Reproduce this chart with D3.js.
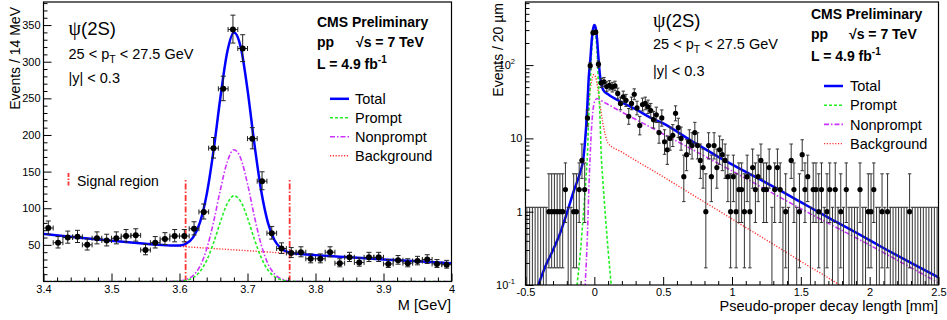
<!DOCTYPE html>
<html><head><meta charset="utf-8">
<script src="https://cdn.jsdelivr.net/npm/d3@7"></script>
<style>
body{margin:0;background:#fff;}
svg{display:block;}
text{font-family:"Liberation Sans",Arial,Helvetica,sans-serif;fill:#000;}
</style></head><body>
<svg id="chart" width="947" height="320"></svg>
<script>
// ================= DATA =================
// ---- Left panel: invariant mass histogram (42 bins, 3.4 - 4.0 GeV) ----
const massBinCenters = [3.4071,3.4214,3.4357,3.4500,3.4643,3.4786,3.4929,3.5071,3.5214,3.5357,
  3.5500,3.5643,3.5786,3.5929,3.6071,3.6214,3.6357,3.6500,3.6643,3.6786,
  3.6929,3.7071,3.7214,3.7357,3.7500,3.7643,3.7786,3.7929,3.8071,3.8214,
  3.8357,3.8500,3.8643,3.8786,3.8929,3.9071,3.9214,3.9357,3.9500,3.9643,
  3.9786,3.9929];
const massCounts = [73,53,60,61,50,59,56,59,62,63,
  43,53,58,62,62,72,95,182,263,344,
  318,195,137,66,45,39,40,31,31,40,
  25,33,26,33,33,24,29,25,28,30,
  24,23];
const massBinHalfWidth = 0.3/42;

const massGridTotal = [3.40,3.45,3.50,3.55,3.58,3.59,3.60,3.61,3.62,3.63,3.64,3.65,3.66,3.67,3.68,3.69,3.70,3.71,3.72,3.73,3.74,3.75,3.76,3.77,3.78,3.80,3.85,3.90,3.95,4.00];
const totalMassFit = [65,60,55.5,51.5,49.5,49.0,49.25,51.9,60.2,80.2,118.9,178.3,250.1,312.3,340.0,320.2,261.9,188.8,124.5,80.4,55.9,44.6,40.05,38.2,37.3,36,33,30,27.5,25];
const massGridSignal = [3.40,3.50,3.56,3.58,3.59,3.60,3.61,3.62,3.63,3.64,3.65,3.66,3.67,3.68,3.69,3.70,3.71,3.72,3.73,3.74,3.75,3.76,3.77,3.78,3.80,3.90,4.00];
const promptMassFit = [0,0,0,0.02,0.12,0.49,1.76,5.28,13.4,28.9,52.5,81.0,105.8,116.9,109.4,86.6,58.1,33.0,15.8,6.4,2.2,0.65,0.16,0.03,0,0,0];
const nonpromptMassFit = [0,0,0,0.04,0.18,0.76,2.7,8.1,20.6,44.4,80.8,124.7,162.7,179.9,168.2,133.3,89.3,50.7,24.4,9.9,3.4,1.0,0.24,0.05,0,0,0];
const massGridBkg = [3.40,3.45,3.50,3.55,3.60,3.65,3.70,3.75,3.80,3.85,3.90,3.95,4.00];
const bkgMassFit = [65,60,55.5,51.5,48,45,42,39,36,33,30,27.5,25];
const signalRegionEdges = [3.609, 3.762];
const signalRegionHeight = 140;

// ---- Right panel: pseudo-proper decay length histogram (150 bins of 20 um) ----
const decayBinCenters = [
 -0.49,-0.47,-0.45,-0.43,-0.41,-0.39,-0.37,-0.35,-0.33,-0.31,
 -0.29,-0.27,-0.25,-0.23,-0.21,-0.19,-0.17,-0.15,-0.13,-0.11,
 -0.09,-0.07,-0.05,-0.03,-0.01,0.01,0.03,0.05,0.07,0.09,
 0.11,0.13,0.15,0.17,0.19,0.21,0.23,0.25,0.27,0.29,
 0.31,0.33,0.35,0.37,0.39,0.41,0.43,0.45,0.47,0.49,
 0.51,0.53,0.55,0.57,0.59,0.61,0.63,0.65,0.67,0.69,
 0.71,0.73,0.75,0.77,0.79,0.81,0.83,0.85,0.87,0.89,
 0.91,0.93,0.95,0.97,0.99,1.01,1.03,1.05,1.07,1.09,
 1.11,1.13,1.15,1.17,1.19,1.21,1.23,1.25,1.27,1.29,
 1.31,1.33,1.35,1.37,1.39,1.41,1.43,1.45,1.47,1.49,
 1.51,1.53,1.55,1.57,1.59,1.61,1.63,1.65,1.67,1.69,
 1.71,1.73,1.75,1.77,1.79,1.81,1.83,1.85,1.87,1.89,
 1.91,1.93,1.95,1.97,1.99,2.01,2.03,2.05,2.07,2.09,
 2.11,2.13,2.15,2.17,2.19,2.21,2.23,2.25,2.27,2.29,
 2.31,2.33,2.35,2.37,2.39,2.41,2.43,2.45,2.47,2.49];
const decayCounts = [
 0,0,0,0,0,0,0,0,1,1,
 1,1,1,1,2,0,0,1,1,2,
 5,2,19,98,276,281,103,57,59,51,
 53,50,52,41,30,37,33,20,30,40,
 26,15,29,30,27,24,18,21,12,19,
 9,7,10,11,22,14,10,3,6,9,
 8,12,8,5,4,1,8,3,8,4,
 7,6,5,3,1,3,1,2,2,1,
 3,1,4,2,3,5,2,2,4,0,
 2,4,2,0,1,0,5,2,0,1,
 6,2,3,0,2,2,1,2,0,1,
 2,0,2,0,1,0,2,0,0,0,
 0,2,0,0,1,1,2,0,0,1,
 0,1,0,0,0,0,0,0,0,1,
 0,0,0,0,0,0,0,0,0,0];
const decayBinHalfWidth = 0.01;

const decayGridTotal = [-0.42,-0.35,-0.3,-0.25,-0.2,-0.15,-0.1,-0.08,-0.07,-0.06,-0.05,-0.04,-0.03,-0.02,-0.01,0,0.01,0.02,0.03,0.04,0.05,0.065,0.1,0.2,0.3,0.4,0.5,0.7,0.9,1.1,1.3,1.5,1.7,1.9,2.1,2.3,2.5];
const totalDecayFit = [0.085,0.19,0.3,0.5,0.95,1.9,3.6,5.2,8,14,30,70,112,205,305,352,320,225,125,75,56,45.5,40,31,25,19.5,16,9.4,5.6,3.5,2.2,1.35,0.83,0.52,0.32,0.2,0.127];
const decayGridBkg = [-0.42,-0.35,-0.3,-0.25,-0.2,-0.15,-0.1,-0.08,-0.06,-0.04,-0.02,-0.005,0.01,0.02,0.04,0.06,0.08,0.1,0.2,0.3,0.5,0.7,0.9,1.1,1.3,1.5,1.7,1.8];
const bkgDecayFit = [0.085,0.19,0.3,0.5,0.95,1.9,3.6,5.1,12,32,60,74,68,55,30,17,11,8.6,6.5,5.0,3.0,1.76,1.04,0.61,0.36,0.21,0.125,0.095];
const decayGridPrompt = [-0.13,-0.1,-0.08,-0.06,-0.05,-0.04,-0.03,-0.02,-0.01,0,0.01,0.02,0.03,0.04,0.05,0.06,0.08,0.1,0.125];
const promptDecayFit = [0.085,0.3,0.9,3,6,22,55,150,250,290,250,150,55,22,6,3,0.9,0.3,0.09];
const decayGridNonprompt = [-0.068,-0.05,-0.04,-0.03,-0.02,-0.01,0,0.02,0.04,0.06,0.1,0.5,1.0,1.5,2.0,2.5];
const nonpromptDecayFit = [0.09,0.5,2,6,14,24,31,35,34,32,29,11.5,3.6,1.1,0.35,0.107];

// ---- tick labels ----
const massTickValues = [3.4,3.5,3.6,3.7,3.8,3.9,4.0];
const massTickLabels = ["3.4","3.5","3.6","3.7","3.8","3.9","4"];
const eventsTickValues = [50,100,150,200,250,300,350];
const eventsTickLabels = ["50","100","150","200","250","300","350"];
const decayTickValues = [-0.5,0,0.5,1,1.5,2,2.5];
const decayTickLabels = ["-0.5","0","0.5","1","1.5","2","2.5"];
const logTickValues = [0.1,1,10,100];
const logTickLabels = [["10","-1"],["1",""],["10",""],["10","2"]];

const legendLabels = ["Total","Prompt","Nonprompt","Background"];

// ================= DRAWING =================
const svg = d3.select("#chart");
svg.append("rect").attr("width",947).attr("height",320).attr("fill","#fff");

const COL = {total:"#0000ff", prompt:"#22ee22", nonprompt:"#cc33ff", bkg:"#ff3333"};
const legendStyles = [
  {stroke:COL.total, w:2.5, dash:null},
  {stroke:COL.prompt, w:1.6, dash:"3,2"},
  {stroke:COL.nonprompt, w:1.6, dash:"5,2,1.5,2"},
  {stroke:COL.bkg, w:1.4, dash:"1.2,1.6"}
];

function poissonLo(n){ if(n<=0) return 0; return n*Math.pow(1-1/(9*n)-1/(3*Math.sqrt(n)),3); }
function poissonHi(n){ if(n<=0) return 1.1475; const m=n+1; return m*Math.pow(1-1/(9*m)+1/(3*Math.sqrt(m)),3); }

function styleAxis(g, fs){
  g.select(".domain").remove();
  g.attr("font-size", fs);
  g.selectAll(".tick line").attr("stroke","#000").attr("stroke-width",1);
  g.selectAll(".tick text").attr("fill","#222");
}

function drawPanel(cfg){
  const {box, xs, ys, id} = cfg;
  svg.append("clipPath").attr("id",id).append("rect")
    .attr("x",box.l).attr("y",box.t).attr("width",box.r-box.l).attr("height",box.b-box.t);
  // x axis
  const gx = svg.append("g").attr("transform",`translate(0,${box.b})`)
    .call(d3.axisBottom(xs).tickValues(cfg.xMajor).tickSize(-8).tickPadding(3.5)
      .tickFormat((d,i)=>cfg.xLabels[i]));
  styleAxis(gx, 11);
  const gxm = svg.append("g").attr("transform",`translate(0,${box.b})`)
    .call(d3.axisBottom(xs).tickValues(cfg.xMinor).tickSize(-4).tickFormat(""));
  styleAxis(gxm, 11);
  // y axis
  const gy = svg.append("g").attr("transform",`translate(${box.l},0)`)
    .call(d3.axisLeft(ys).tickValues(cfg.yMajor).tickSize(-8).tickPadding(3)
      .tickFormat(cfg.yFormat));
  styleAxis(gy, 11);
  const gym = svg.append("g").attr("transform",`translate(${box.l},0)`)
    .call(d3.axisLeft(ys).tickValues(cfg.yMinor).tickSize(-4).tickFormat(""));
  styleAxis(gym, 11);
  // frame
  svg.append("rect").attr("x",box.l).attr("y",box.t).attr("width",box.r-box.l).attr("height",box.b-box.t)
    .attr("fill","none").attr("stroke","#000").attr("stroke-width",1.2);
  return {gy};
}

function drawCurve(g, xs, ys, grid, vals, st){
  const line = d3.line().x((d,i)=>xs(grid[i])).y(d=>ys(d)).curve(d3.curveMonotoneX);
  g.append("path").attr("d", line(vals)).attr("fill","none")
    .attr("stroke",st.stroke).attr("stroke-width",st.w)
    .attr("stroke-dasharray",st.dash);
}

function drawLegend(x0, x1, xt, yc, dy){
  legendLabels.forEach((lab,i)=>{
    const y = yc + i*dy, st = legendStyles[i];
    svg.append("line").attr("x1",x0).attr("x2",x1).attr("y1",y).attr("y2",y)
      .attr("stroke",st.stroke).attr("stroke-width",st.w).attr("stroke-dasharray",st.dash);
    svg.append("text").attr("x",xt).attr("y",y+5.2).attr("font-size",14.5).text(lab);
  });
}

function drawLabels(cfg){
  // psi(2S)
  const t = svg.append("text").attr("x",cfg.px).attr("y",cfg.py).attr("font-size",18.5);
  t.append("tspan").attr("font-family","'Liberation Serif','DejaVu Serif',serif").attr("font-size",20).text("ψ");
  t.append("tspan").text("(2S)");
  const t2 = svg.append("text").attr("x",cfg.px).attr("y",cfg.py2).attr("font-size",14.5);
  t2.append("tspan").text("25 < p");
  t2.append("tspan").attr("font-size",10.5).attr("dy",4).text("T");
  t2.append("tspan").attr("dy",-4).text(" < 27.5 GeV");
  svg.append("text").attr("x",cfg.px).attr("y",cfg.py3).attr("font-size",14.5).text("|y| < 0.3");
  // CMS block
  svg.append("text").attr("x",cfg.cx).attr("y",cfg.cy).attr("font-size",14).attr("font-weight","bold").text("CMS Preliminary");
  svg.append("text").attr("x",cfg.cx).attr("y",cfg.cy+20.3).attr("font-size",14).attr("font-weight","bold").text("pp");
  svg.append("text").attr("x",cfg.cx+cfg.sq).attr("y",cfg.cy+20.3).attr("font-size",14).attr("font-weight","bold").text("√s = 7 TeV");
  const t3 = svg.append("text").attr("x",cfg.cx).attr("y",cfg.cy+41.8).attr("font-size",14).attr("font-weight","bold");
  t3.append("tspan").text("L = 4.9 fb");
  t3.append("tspan").attr("font-size",10).attr("dy",-6).text("-1");
}

// ---------- LEFT PANEL ----------
const LB = {l:43.5, r:451.5, t:2, b:281.5};
const xL = d3.scaleLinear().domain([3.4,4.0]).range([LB.l,LB.r]);
const yL = d3.scaleLinear().domain([0,381.5]).range([LB.b,LB.t]);

const gLc = svg.append("g").attr("clip-path","url(#clipL)");
// signal region lines
signalRegionEdges.forEach(m=>{
  gLc.append("line").attr("x1",xL(m)).attr("x2",xL(m)).attr("y1",yL(0)).attr("y2",yL(signalRegionHeight))
    .attr("stroke","#ff3333").attr("stroke-width",1.8).attr("stroke-dasharray","6,2,1.5,2");
});
drawCurve(gLc, xL, yL, massGridBkg, bkgMassFit, legendStyles[3]);
drawCurve(gLc, xL, yL, massGridSignal, nonpromptMassFit, legendStyles[2]);
drawCurve(gLc, xL, yL, massGridSignal, promptMassFit, legendStyles[1]);
drawCurve(gLc, xL, yL, massGridTotal, totalMassFit, legendStyles[0]);

const massData = massBinCenters.map((m,i)=>({m, n:massCounts[i]}));
const gLd = svg.append("g").attr("clip-path","url(#clipL)");
gLd.selectAll("g.pt").data(massData).join("g").attr("class","pt").each(function(d){
  const g = d3.select(this);
  const x = xL(d.m), y = yL(d.n), ylo = yL(poissonLo(d.n)), yhi = yL(poissonHi(d.n));
  const xa = xL(d.m-massBinHalfWidth), xb = xL(d.m+massBinHalfWidth);
  const st = {stroke:"#222","stroke-width":1};
  g.append("line").attr("x1",x).attr("x2",x).attr("y1",ylo).attr("y2",yhi).attr("stroke","#222");
  g.append("line").attr("x1",xa).attr("x2",xb).attr("y1",y).attr("y2",y).attr("stroke","#222");
  g.append("line").attr("x1",x-2.5).attr("x2",x+2.5).attr("y1",ylo).attr("y2",ylo).attr("stroke","#222");
  g.append("line").attr("x1",x-2.5).attr("x2",x+2.5).attr("y1",yhi).attr("y2",yhi).attr("stroke","#222");
  g.append("line").attr("x1",xa).attr("x2",xa).attr("y1",y-2.5).attr("y2",y+2.5).attr("stroke","#222");
  g.append("line").attr("x1",xb).attr("x2",xb).attr("y1",y-2.5).attr("y2",y+2.5).attr("stroke","#222");
  g.append("circle").attr("cx",x).attr("cy",y).attr("r",3).attr("fill","#000");
});

drawPanel({box:LB, xs:xL, ys:yL, id:"clipL",
  xMajor:massTickValues, xLabels:massTickLabels, xMinor:d3.range(3.42,4.0,0.02).filter(v=>Math.abs(v*10-Math.round(v*10))>1e-6),
  yMajor:eventsTickValues, yFormat:(d,i)=>eventsTickLabels[i], yMinor:d3.range(10,381,10).filter(v=>v%50!==0)});

svg.append("text").attr("transform","translate(19.5,7) rotate(-90)").attr("text-anchor","end")
  .attr("font-size",14).text("Events / 14 MeV");
svg.append("text").attr("x",451).attr("y",310).attr("text-anchor","end").attr("font-size",14.5).text("M [GeV]");

drawLabels({px:68.5, py:35, py2:59.3, py3:83.3, cx:317, cy:26.7, sq:39});
drawLegend(330, 349, 355, 98.8, 19);
// signal region legend
svg.append("line").attr("x1",68.5).attr("x2",68.5).attr("y1",173).attr("y2",187)
  .attr("stroke","#ff3333").attr("stroke-width",1.8).attr("stroke-dasharray","4,1.5,1.5,1.5");
svg.append("text").attr("x",77).attr("y",186).attr("font-size",14).text("Signal region");

// ---------- RIGHT PANEL ----------
const RB = {l:525.5, r:938.5, t:2, b:285};
const xR = d3.scaleLinear().domain([-0.5,2.5]).range([RB.l,RB.r]);
const yR = d3.scaleLog().domain([0.1,725]).range([RB.b,RB.t]);

const gRc = svg.append("g").attr("clip-path","url(#clipR)");
drawCurve(gRc, xR, yR, decayGridBkg, bkgDecayFit, legendStyles[3]);
drawCurve(gRc, xR, yR, decayGridNonprompt, nonpromptDecayFit, legendStyles[2]);
drawCurve(gRc, xR, yR, decayGridPrompt, promptDecayFit, legendStyles[1]);
drawCurve(gRc, xR, yR, decayGridTotal, totalDecayFit, legendStyles[0]);

const decayData = decayBinCenters.map((v,i)=>({v, n:decayCounts[i]}));
const gRd = svg.append("g").attr("clip-path","url(#clipR)");
gRd.selectAll("g.pt").data(decayData).join("g").attr("class","pt").each(function(d){
  const g = d3.select(this);
  const x = xR(d.v);
  const lo = poissonLo(d.n), hi = poissonHi(d.n);
  const ylo = lo>0 ? yR(lo) : RB.b+5, yhi = yR(hi);
  g.append("line").attr("x1",x).attr("x2",x).attr("y1",ylo).attr("y2",yhi).attr("stroke","#333").attr("stroke-width",1);
  g.append("line").attr("x1",x-1.7).attr("x2",x+1.7).attr("y1",yhi).attr("y2",yhi).attr("stroke","#333");
  if(lo>0) g.append("line").attr("x1",x-1.7).attr("x2",x+1.7).attr("y1",ylo).attr("y2",ylo).attr("stroke","#333");
  if(d.n>0){
    const y = yR(d.n);
    g.append("line").attr("x1",xR(d.v-decayBinHalfWidth)).attr("x2",xR(d.v+decayBinHalfWidth)).attr("y1",y).attr("y2",y).attr("stroke","#333");
    g.append("circle").attr("cx",x).attr("cy",y).attr("r",2.6).attr("fill","#000");
  }
});

const logMinor = [];
[0.1,1,10,100].forEach(dec=>{ for(let k=2;k<=9;k++){ const v=dec*k; if(v<=725) logMinor.push(v);} });
const pr = drawPanel({box:RB, xs:xR, ys:yR, id:"clipR",
  xMajor:decayTickValues, xLabels:decayTickLabels, xMinor:d3.range(-0.4,2.45,0.1).filter(v=>Math.abs(v*2-Math.round(v*2))>1e-6),
  yMajor:logTickValues, yFormat:()=>"", yMinor:logMinor});
// log tick labels with superscripts
logTickValues.forEach((v,i)=>{
  const [base,exp] = logTickLabels[i];
  const t = svg.append("text").attr("x", exp ? 515 : 522.5).attr("y", yR(v)+4).attr("font-size",11).attr("fill","#222")
    .attr("text-anchor", exp ? "end" : "end");
  t.append("tspan").text(base);
  if(exp) t.append("tspan").attr("font-size",7.5).attr("dy",-5).text(exp);
});

svg.append("text").attr("transform","translate(503,3) rotate(-90)").attr("text-anchor","end")
  .attr("font-size",14).text("Events / 20 µm");
svg.append("text").attr("x",938).attr("y",310.7).attr("text-anchor","end").attr("font-size",14.5).text("Pseudo-proper decay length [mm]");

drawLabels({px:653, py:27, py2:49.3, py3:76, cx:811, cy:19, sq:38});
drawLegend(824, 843, 850, 86, 19.2);
</script></body></html>
